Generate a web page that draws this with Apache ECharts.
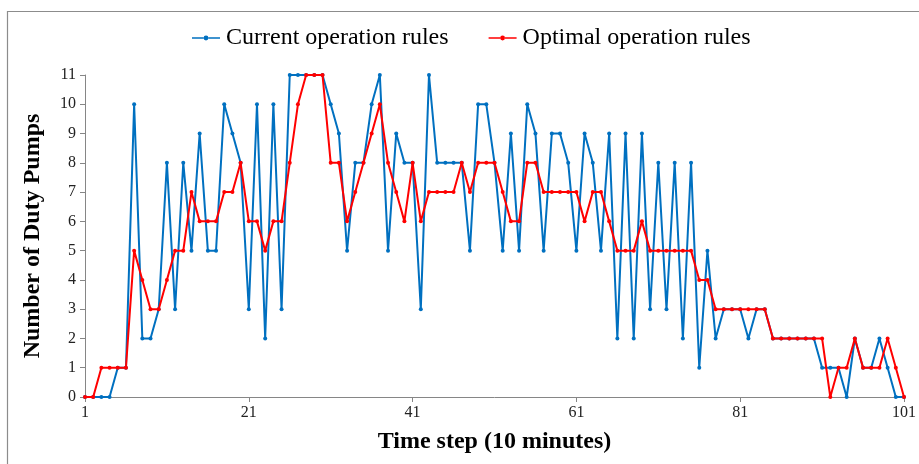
<!DOCTYPE html>
<html>
<head>
<meta charset="utf-8">
<style>
  html, body { margin: 0; padding: 0; background: #ffffff; }
  #chart { width: 919px; height: 464px; }
</style>
<script src="https://cdn.jsdelivr.net/npm/echarts@6/dist/echarts.min.js"></script>
</head>
<body>
<div id="chart"></div>
<script>
// Time steps 1..101 (10-minute intervals)
const timeSteps = [];
for (let i = 1; i <= 101; i++) timeSteps.push(String(i));

// Number of duty pumps under the current operation rules
const currentRules = [
  0, 0, 0, 0, 1, 1, 10, 2, 2, 3,
  8, 3, 8, 5, 9, 5, 5, 10, 9, 8,
  3, 10, 2, 10, 3, 11, 11, 11, 11, 11,
  10, 9, 5, 8, 8, 10, 11, 5, 9, 8,
  8, 3, 11, 8, 8, 8, 8, 5, 10, 10,
  8, 5, 9, 5, 10, 9, 5, 9, 9, 8,
  5, 9, 8, 5, 9, 2, 9, 2, 9, 3,
  8, 3, 8, 2, 8, 1, 5, 2, 3, 3,
  3, 2, 3, 3, 2, 2, 2, 2, 2, 2,
  1, 1, 1, 0, 2, 1, 1, 2, 1, 0,
  0
];

// Number of duty pumps under the optimal operation rules
const optimalRules = [
  0, 0, 1, 1, 1, 1, 5, 4, 3, 3,
  4, 5, 5, 7, 6, 6, 6, 7, 7, 8,
  6, 6, 5, 6, 6, 8, 10, 11, 11, 11,
  8, 8, 6, 7, 8, 9, 10, 8, 7, 6,
  8, 6, 7, 7, 7, 7, 8, 7, 8, 8,
  8, 7, 6, 6, 8, 8, 7, 7, 7, 7,
  7, 6, 7, 7, 6, 5, 5, 5, 6, 5,
  5, 5, 5, 5, 5, 4, 4, 3, 3, 3,
  3, 3, 3, 3, 2, 2, 2, 2, 2, 2,
  2, 0, 1, 1, 2, 1, 1, 1, 2, 1,
  0
];

const serifFont = '"Liberation Serif", "Times New Roman", serif';
const axisGrey = '#868686';

// legend glyph: a short line with a filled dot in the middle
const legendIcon = 'path://M0,4.2 L11.6,4.2 L11.6,5.8 L0,5.8 Z M16.4,4.2 L28,4.2 L28,5.8 L16.4,5.8 Z ' +
  'M14,2.6 A2.4,2.4 0 1,1 13.99,2.6 Z';

const chart = echarts.init(document.getElementById('chart'), null, { renderer: 'canvas' });

chart.setOption({
  backgroundColor: '#ffffff',
  animation: false,
  graphic: [{
    type: 'rect',
    left: 5, top: 9,
    shape: { width: 940, height: 480 },
    style: { fill: 'none', stroke: '#8c8c8c', lineWidth: 1.2 },
    silent: true
  }],
  legend: {
    top: 21,
    left: 187,
    itemWidth: 28,
    itemHeight: 10,
    itemGap: 40,
    icon: legendIcon,
    textStyle: { fontFamily: serifFont, fontSize: 24, color: '#000000', padding: [0, 0, 0, 1] },
    data: ['Current operation rules', 'Optimal operation rules']
  },
  grid: { left: 85, right: 14, top: 75, bottom: 67 },
  xAxis: {
    type: 'category',
    data: timeSteps,
    boundaryGap: false,
    name: 'Time step (10 minutes)',
    nameLocation: 'middle',
    nameGap: 33,
    nameTextStyle: { fontFamily: serifFont, fontSize: 24, fontWeight: 'bold', color: '#000000' },
    axisLine: { lineStyle: { color: axisGrey, width: 1 } },
    axisTick: { interval: 19, length: 5, inside: false, lineStyle: { color: axisGrey } },
    axisLabel: { interval: 19, margin: 8, fontFamily: serifFont, fontSize: 16, color: '#222222' },
    splitLine: { show: false }
  },
  yAxis: {
    type: 'value',
    min: 0, max: 11, interval: 1,
    name: 'Number of Duty Pumps',
    nameLocation: 'middle',
    nameGap: 40,
    nameTextStyle: { fontFamily: serifFont, fontSize: 24, fontWeight: 'bold', color: '#000000' },
    axisLine: { show: true, lineStyle: { color: axisGrey, width: 1 } },
    axisTick: { show: true, length: 5, lineStyle: { color: axisGrey } },
    axisLabel: { margin: 9, fontFamily: serifFont, fontSize: 16, color: '#222222' },
    splitLine: { show: false }
  },
  series: [
    {
      name: 'Current operation rules',
      type: 'line',
      data: currentRules,
      color: '#0070C0',
      symbol: 'circle',
      symbolSize: 4,
      showAllSymbol: true,
      lineStyle: { width: 2, color: '#0070C0' },
      itemStyle: { color: '#0070C0' },
      z: 2
    },
    {
      name: 'Optimal operation rules',
      type: 'line',
      data: optimalRules,
      color: '#FF0000',
      symbol: 'circle',
      symbolSize: 4,
      showAllSymbol: true,
      lineStyle: { width: 2, color: '#FF0000' },
      itemStyle: { color: '#FF0000' },
      z: 3
    }
  ]
});
</script>
</body>
</html>
